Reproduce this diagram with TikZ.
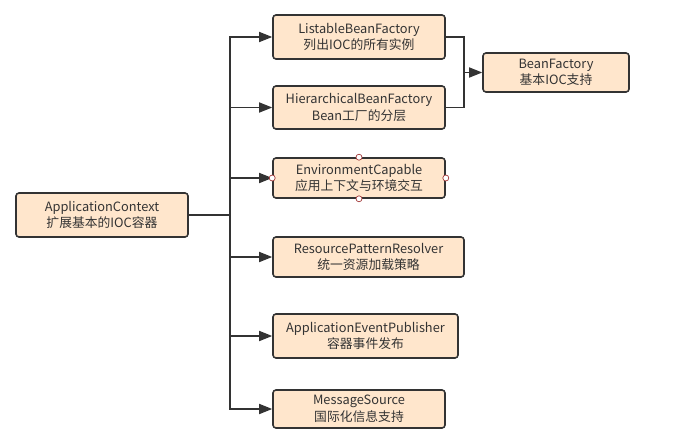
\documentclass[tikz,border=0pt]{standalone}
\usepackage{fontspec}
\usepackage{tikz}
\usetikzlibrary{arrows.meta}
\newfontfamily\cjk{Noto Sans CJK SC}

\definecolor{boxfill}{HTML}{FFE6CC}
\definecolor{boxline}{HTML}{333333}
\definecolor{handle}{HTML}{A33A3A}

\tikzset{
    item/.style={draw=boxline, line width=1.6pt, fill=boxfill, rounded corners=3pt,
        align=center, text=boxline, inner sep=0pt,
        font=\cjk\fontsize{12.8}{16.5}\selectfont},
    link/.style={draw=boxline, line width=1.6pt},
    arrow/.style={link, -{Triangle[length=13pt,width=10pt]}},
    grip/.style={circle, draw=handle, fill=white, line width=0.7pt, inner sep=0pt, minimum size=6pt}
}

\begin{document}
\begin{tikzpicture}[x=1pt, y=-1pt]
        \useasboundingbox (0,0) rectangle (678,447);

        % Root interface on the left
        \node[item, minimum width=172pt, minimum height=44pt] (ctx) at (102,215) {ApplicationContext\\扩展基本的IOC容器};

        % Interfaces extended by the root
        \node[item, minimum width=172pt, minimum height=44pt] (listable) at (359,37) {ListableBeanFactory\\列出IOC的所有实例};
        \node[item, minimum width=172pt, minimum height=43pt] (hier) at (359,107.5) {HierarchicalBeanFactory\\Bean工厂的分层};
        \node[item, minimum width=172pt, minimum height=40pt] (env) at (359,178) {EnvironmentCapable\\应用上下文与环境交互};
        \node[item, minimum width=191pt, minimum height=40pt] (res) at (368.5,257) {ResourcePatternResolver\\统一资源加载策略};
        \node[item, minimum width=185pt, minimum height=44pt] (pub) at (365.5,336) {ApplicationEventPublisher\\容器事件发布};
        \node[item, minimum width=172pt, minimum height=38pt] (msg) at (359,409) {MessageSource\\国际化信息支持};

        % Base factory on the right
        \node[item, minimum width=146pt, minimum height=39pt] (bf) at (556,72.5) {BeanFactory\\基本IOC支持};

        % Trunk from the root to each child
        \coordinate (trunk) at (230,215);
        \draw[link] (ctx.east) -- (trunk);
        \foreach \child in {listable, hier, env, res, pub, msg} {
            \draw[arrow] (trunk) |- (\child.west);
        }

        % Both factories join into BeanFactory
        \coordinate (merge) at (464,72.5);
        \draw[link] (listable.east) -| (merge);
        \draw[link] (hier.east) -| (merge);
        \draw[arrow] (merge) -- (bf.west);

        % Selection handles on EnvironmentCapable
        \foreach \side in {north, south, east, west} {
            \node[grip] (env-\side) at (env.\side) {};
        }
    \end{tikzpicture}
\end{document}
